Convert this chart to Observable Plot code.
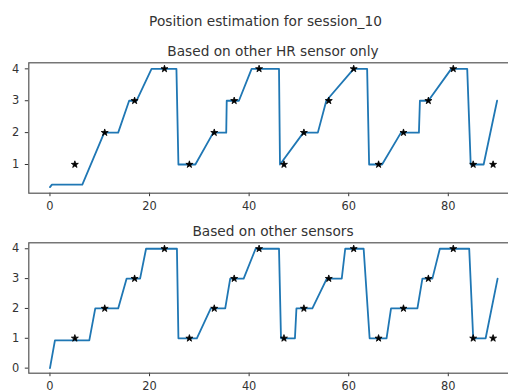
<!DOCTYPE html>
<html>
<head>
<meta charset="utf-8">
<script src="https://cdn.jsdelivr.net/npm/d3@7"></script>
<script src="https://cdn.jsdelivr.net/npm/@observablehq/plot@0.6"></script>
<style>
  html, body { margin: 0; padding: 0; background: #fff; overflow: hidden; width: 508px; height: 390px; }
  #fig { position: relative; width: 540px; height: 400px; font-family: "DejaVu Sans", sans-serif; color: #333; }
  .t { position: absolute; font-size: 13.7px; line-height: 14px; white-space: nowrap; transform: translateX(-50%); }
  .p { position: absolute; left: 0; }
</style>
</head>
<body>
<div id="fig">
  <div class="t" style="left:265.5px; top:13.8px;">Position estimation for session_10</div>
  <div class="t" style="left:273px; top:44px;">Based on other HR sensor only</div>
  <div class="t" style="left:273px; top:224px;">Based on other sensors</div>
  <div class="p" id="p1" style="top:56px;"></div>
  <div class="p" id="p2" style="top:236px;"></div>
</div>
<script>
// Top panel: estimation based on other HR sensor only
const hrX = [0, 0.4, 6.5, 10.9, 13.7, 15.9, 17.4, 20.4, 25.4, 25.8, 29.2, 32.8, 35.4, 35.5, 37.95, 40.5, 46.0, 46.2, 50.9, 53.8, 55.5, 61.0, 63.7, 64.1, 66.7, 70.5, 74.1, 74.3, 76.0, 80.6, 83.8, 84.5, 87.1, 89.8];
const hrY = [0.29, 0.37, 0.37, 2, 2, 3, 3, 4, 4, 1, 1, 2, 2, 3, 3, 4, 4, 1, 2, 2, 3, 4, 4, 1, 1, 2, 2, 3, 3, 4, 4, 1, 1, 3];

// Bottom panel: estimation based on other sensors
const allX = [0, 1.0, 7.9, 9.1, 13.7, 15.4, 18.1, 19.3, 25.5, 25.8, 29.5, 32.3, 35.2, 36.2, 38.9, 41.3, 46.0, 46.4, 49.2, 49.5, 52.7, 55.6, 58.6, 59.3, 63.0, 64.2, 67.6, 68.5, 73.8, 74.8, 76.8, 78.3, 84.2, 85.0, 87.5, 89.9];
const allY = [0, 0.93, 0.93, 2, 2, 3, 3, 4, 4, 1, 1, 2, 2, 3, 3, 4, 4, 1, 1, 2, 2, 3, 3, 4, 4, 1, 1, 2, 2, 3, 3, 4, 4, 1, 1, 3];

// True positions (star markers), shared by both panels
const trueX = [5, 11, 17, 23, 28, 33, 37, 42, 47, 51, 56, 61, 66, 71, 76, 81, 85, 89];
const trueY = [1, 2, 3, 4, 1, 2, 3, 4, 1, 2, 3, 4, 1, 2, 3, 4, 1, 1];

const xTicks = [0, 20, 40, 60, 80];
const yTicksTop = [1, 2, 3, 4];
const yTicksBottom = [0, 1, 2, 3, 4];

const lineColor = "#1f77b4";

function panel(xs, ys, yDomain, yTicks) {
  const line = xs.map((x, i) => ({x, y: ys[i]}));
  const pts = trueX.map((x, i) => ({x, y: trueY[i]}));
  return Plot.plot({
    width: 520,
    height: 160,
    marginLeft: 28.3,
    marginRight: 2,
    marginTop: 6.3,
    marginBottom: 23.3,
    style: {fontFamily: "DejaVu Sans, sans-serif", fontSize: "11.4px", color: "#333", background: "transparent", overflow: "visible"},
    x: {domain: [-4.25, 94.1], ticks: xTicks, tickSize: 3.5, tickPadding: 5, label: null, tickFormat: d => String(d)},
    y: {domain: yDomain, ticks: yTicks, tickSize: 3.5, tickPadding: 6, label: null, tickFormat: d => String(d)},
    marks: [
      Plot.line(line, {x: "x", y: "y", stroke: lineColor, strokeWidth: 1.8}),
      Plot.dot(pts, {x: "x", y: "y", symbol: "star", r: 2.2, fill: "black", stroke: "black", strokeWidth: 0.8}),
      Plot.frame({stroke: "#555", strokeWidth: 1.2})
    ]
  });
}

document.getElementById("p1").appendChild(panel(hrX, hrY, [0.10, 4.19], yTicksTop));
document.getElementById("p2").appendChild(panel(allX, allY, [-0.17, 4.2], yTicksBottom));
</script>
</body>
</html>
